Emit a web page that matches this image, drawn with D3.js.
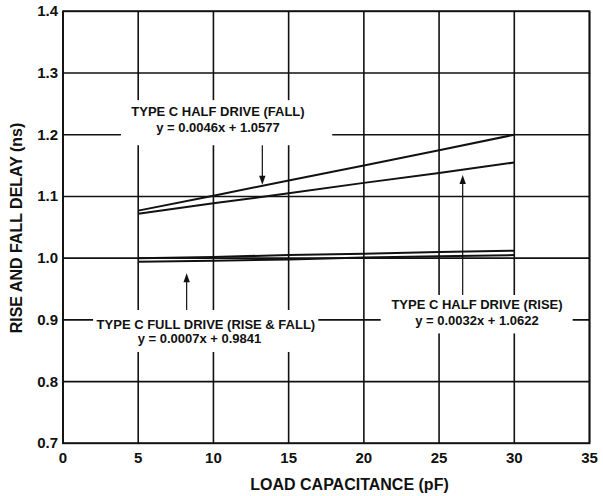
<html>
<head>
<meta charset="utf-8">
<style>
  body { margin: 0; background: #fff; }
  text { font-family: "Liberation Sans", Arial, sans-serif; font-weight: bold; fill: #111; }
</style>
</head>
<body>
<div id="chart"></div>

<script type="text/javascript" src="https://d3js.org/d3.v7.min.js"></script>
<script type="text/javascript">
// data
var loadPF    = [5, 10, 15, 20, 25, 30]
var halfFall  = [1.077, 1.101, 1.126, 1.150, 1.175, 1.200]
var halfRise  = [1.072, 1.089, 1.105, 1.122, 1.138, 1.155]
var fullRise  = [1.000, 1.002, 1.005, 1.007, 1.010, 1.012]
var fullFall  = [0.994, 0.996, 0.998, 1.001, 1.003, 1.005]

var xTicks = [0, 5, 10, 15, 20, 25, 30, 35]
var yTicks = [0.7, 0.8, 0.9, 1.0, 1.1, 1.2, 1.3, 1.4]

var xTitle = "LOAD CAPACITANCE (pF)"
var yTitle = "RISE AND FALL DELAY (ns)"

var width = 603, height = 496
var plot = {left: 63, right: 589.5, top: 11.3, bottom: 443.3}

var svg = d3.select("#chart")
			.append("svg")
			.attr("width", width)
			.attr("height", height)

var x = d3.scaleLinear().domain([0, 35]).range([plot.left, plot.right])
var y = d3.scaleLinear().domain([0.7, 1.4]).range([plot.bottom, plot.top])

var ink = "#111"

// grid
svg.append("g").selectAll("line.v")
	.data(xTicks)
	.enter().append("line")
	.attr("x1", d => x(d)).attr("x2", d => x(d))
	.attr("y1", plot.top).attr("y2", plot.bottom)
	.style("stroke", ink).style("stroke-width", 1.6)

svg.append("g").selectAll("line.h")
	.data(yTicks)
	.enter().append("line")
	.attr("x1", plot.left).attr("x2", plot.right)
	.attr("y1", d => y(d)).attr("y2", d => y(d))
	.style("stroke", ink).style("stroke-width", 1.6)

// tick labels
svg.append("g").selectAll("text")
	.data(xTicks)
	.enter().append("text")
	.attr("x", d => x(d))
	.attr("y", 463)
	.attr("text-anchor", "middle")
	.style("font-size", "15px")
	.text(d => d)

svg.append("g").selectAll("text")
	.data(yTicks)
	.enter().append("text")
	.attr("x", 58)
	.attr("y", d => y(d) + 5)
	.attr("text-anchor", "end")
	.style("font-size", "15px")
	.text(d => d3.format(".1f")(d))

// axis titles
svg.append("text")
	.attr("x", 349.5).attr("y", 490)
	.attr("text-anchor", "middle")
	.style("font-size", "16px")
	.text(xTitle)

svg.append("text")
	.attr("transform", "translate(22, 228) rotate(-90)")
	.attr("text-anchor", "middle")
	.style("font-size", "16px")
	.text(yTitle)

// series
var line = d3.line()
	.x((d, i) => x(loadPF[i]))
	.y(d => y(d))

var series = [halfFall, halfRise, fullRise, fullFall]
svg.append("g").selectAll("path")
	.data(series)
	.enter().append("path")
	.attr("d", d => line(d))
	.style("fill", "none")
	.style("stroke", ink)
	.style("stroke-width", 2)

// annotations: white box, text lines, arrow
var notes = [
	{ box: [3.85, 17.9, 1.256, 1.183],
	  lines: [ {t: "TYPE C HALF DRIVE (FALL)", cx: 10.3, cy: 1.230},
	           {t: "y = 0.0046x + 1.0577",     cx: 10.3, cy: 1.205} ],
	  arrow: {ax: 13.25, from: 1.183, to: 1.119} },
	{ box: [2.0, 16.97, 0.916, 0.848],
	  lines: [ {t: "TYPE C FULL DRIVE (RISE & FALL)", cx: 9.5, cy: 0.8847},
	           {t: "y = 0.0007x + 0.9841",            cx: 9.07, cy: 0.862} ],
	  arrow: {ax: 8.22, from: 0.916, to: 0.9755} },
	{ box: [21.12, 33.88, 0.9403, 0.878],
	  lines: [ {t: "TYPE C HALF DRIVE (RISE)", cx: 27.52, cy: 0.917},
	           {t: "y = 0.0032x + 1.0622",     cx: 27.52, cy: 0.8917} ],
	  arrow: {ax: 26.57, from: 0.9403, to: 1.1348} }
]

notes.forEach(function(n) {
	svg.append("rect")
		.attr("x", x(n.box[0]))
		.attr("y", y(n.box[2]))
		.attr("width", x(n.box[1]) - x(n.box[0]))
		.attr("height", y(n.box[3]) - y(n.box[2]))
		.style("fill", "#fff")

	n.lines.forEach(function(l) {
		svg.append("text")
			.attr("x", x(l.cx)).attr("y", y(l.cy))
			.attr("text-anchor", "middle")
			.style("font-size", "13px")
			.text(l.t)
	})

	var ax = x(n.arrow.ax), y0 = y(n.arrow.from), y1 = y(n.arrow.to)
	var dir = y1 > y0 ? 1 : -1
	svg.append("line")
		.attr("x1", ax).attr("x2", ax)
		.attr("y1", y0).attr("y2", y1 - dir * 7)
		.style("stroke", ink).style("stroke-width", 1.2)
	svg.append("path")
		.attr("d", "M" + ax + "," + y1 + " L" + (ax - 3.2) + "," + (y1 - dir * 9) +
		           " L" + (ax + 3.2) + "," + (y1 - dir * 9) + " Z")
		.style("fill", ink)
})

// frame
svg.append("rect")
	.attr("x", plot.left).attr("y", plot.top)
	.attr("width", plot.right - plot.left)
	.attr("height", plot.bottom - plot.top)
	.style("fill", "none")
	.style("stroke", ink).style("stroke-width", 1.8)
</script>
</body>
</html>
